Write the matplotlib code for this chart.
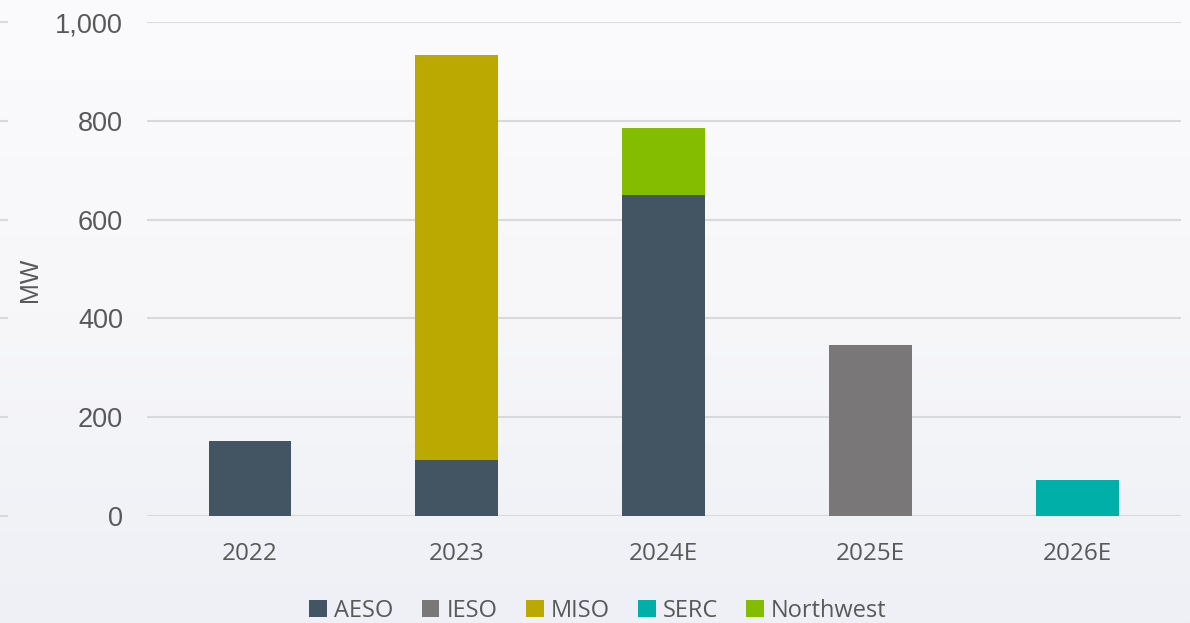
import matplotlib
matplotlib.use("Agg")
import matplotlib.pyplot as plt
import matplotlib.transforms as mtransforms
from matplotlib.patches import Patch
from matplotlib.colors import LinearSegmentedColormap
import numpy as np

categories = ["2022", "2023", "2024E", "2025E", "2026E"]
series_names = ["AESO", "IESO", "MISO", "SERC", "Northwest"]
aeso = [152, 113, 650, 0, 0]
ieso = [0, 0, 0, 347, 0]
miso = [0, 820, 0, 0, 0]
serc = [0, 0, 0, 0, 73]
northwest = [0, 0, 135, 0, 0]
colors = ["#435563", "#7a7778", "#bba800", "#00b0a8", "#84bc00"]
yticks = [0, 200, 400, 600, 800, 1000]
ytick_labels = ["0", "200", "400", "600", "800", "1,000"]

W, H = 1190, 623
fig = plt.figure(figsize=(W / 100, H / 100), dpi=100)

# background gradient
bg = fig.add_axes([0, 0, 1, 1], zorder=-10)
grad = np.linspace(0, 1, 256).reshape(-1, 1)
cmap = LinearSegmentedColormap.from_list("bg", ["#fbfbfd", "#f7f7fa", "#eef0f5"])
bg.imshow(grad, aspect="auto", cmap=cmap, extent=[0, 1, 0, 1], origin="upper")
bg.set_axis_off()

left = 146.5 / W
right = 1181 / W
bottom = 1 - 516 / H
top = 1 - 22 / H
ax = fig.add_axes([left, bottom, right - left, top - bottom])
ax.patch.set_alpha(0)

x = np.arange(len(categories))
all_series = [aeso, ieso, miso, serc, northwest]
base = np.zeros(len(categories))
for name, vals, c in zip(series_names, all_series, colors):
    v = np.array(vals, dtype=float)
    ax.bar(x, v, width=0.4, bottom=base, color=c, zorder=3, label=name)
    base += v

ax.set_xlim(-0.5, len(categories) - 0.5)
ax.set_ylim(0, 1000)
ax.set_yticks(yticks)
ax.set_yticklabels(ytick_labels, fontfamily="Liberation Sans", fontsize=19.5, color="#595959")
ax.set_xticks(x)
ax.set_xticklabels(categories, fontfamily="Open Sans", fontsize=17.5, color="#595959")
ax.tick_params(axis="y", length=0, pad=17)
ax.tick_params(axis="x", length=0, pad=19)
ax.grid(axis="y", color="#d9d9d9", linewidth=1.5, zorder=0)
for s in ax.spines.values():
    s.set_visible(False)

# short gridline stubs at far left
trans = mtransforms.blended_transform_factory(ax.transAxes, ax.transData)
ax.hlines(yticks, -146.5 / (W * (right - left)), (8 - 146.5) / (W * (right - left)),
          transform=trans, colors="#d9d9d9", linewidth=1.5, clip_on=False)

fig.text(30 / W, 1 - 280 / H, "MW", rotation=90, ha="center", va="center",
         fontfamily="Liberation Sans", fontsize=18, color="#595959")

handles = [Patch(facecolor=c, edgecolor="none") for c in colors]
fig.legend(handles, series_names, loc="center", bbox_to_anchor=(598 / W, 1 - 611 / H),
           ncol=5, frameon=False, prop={"family": "Open Sans", "size": 17},
           labelcolor="#595959", handlelength=0.75, handleheight=0.75,
           handletextpad=0.3, columnspacing=1.2)

fig.savefig("out.png", dpi=100)
